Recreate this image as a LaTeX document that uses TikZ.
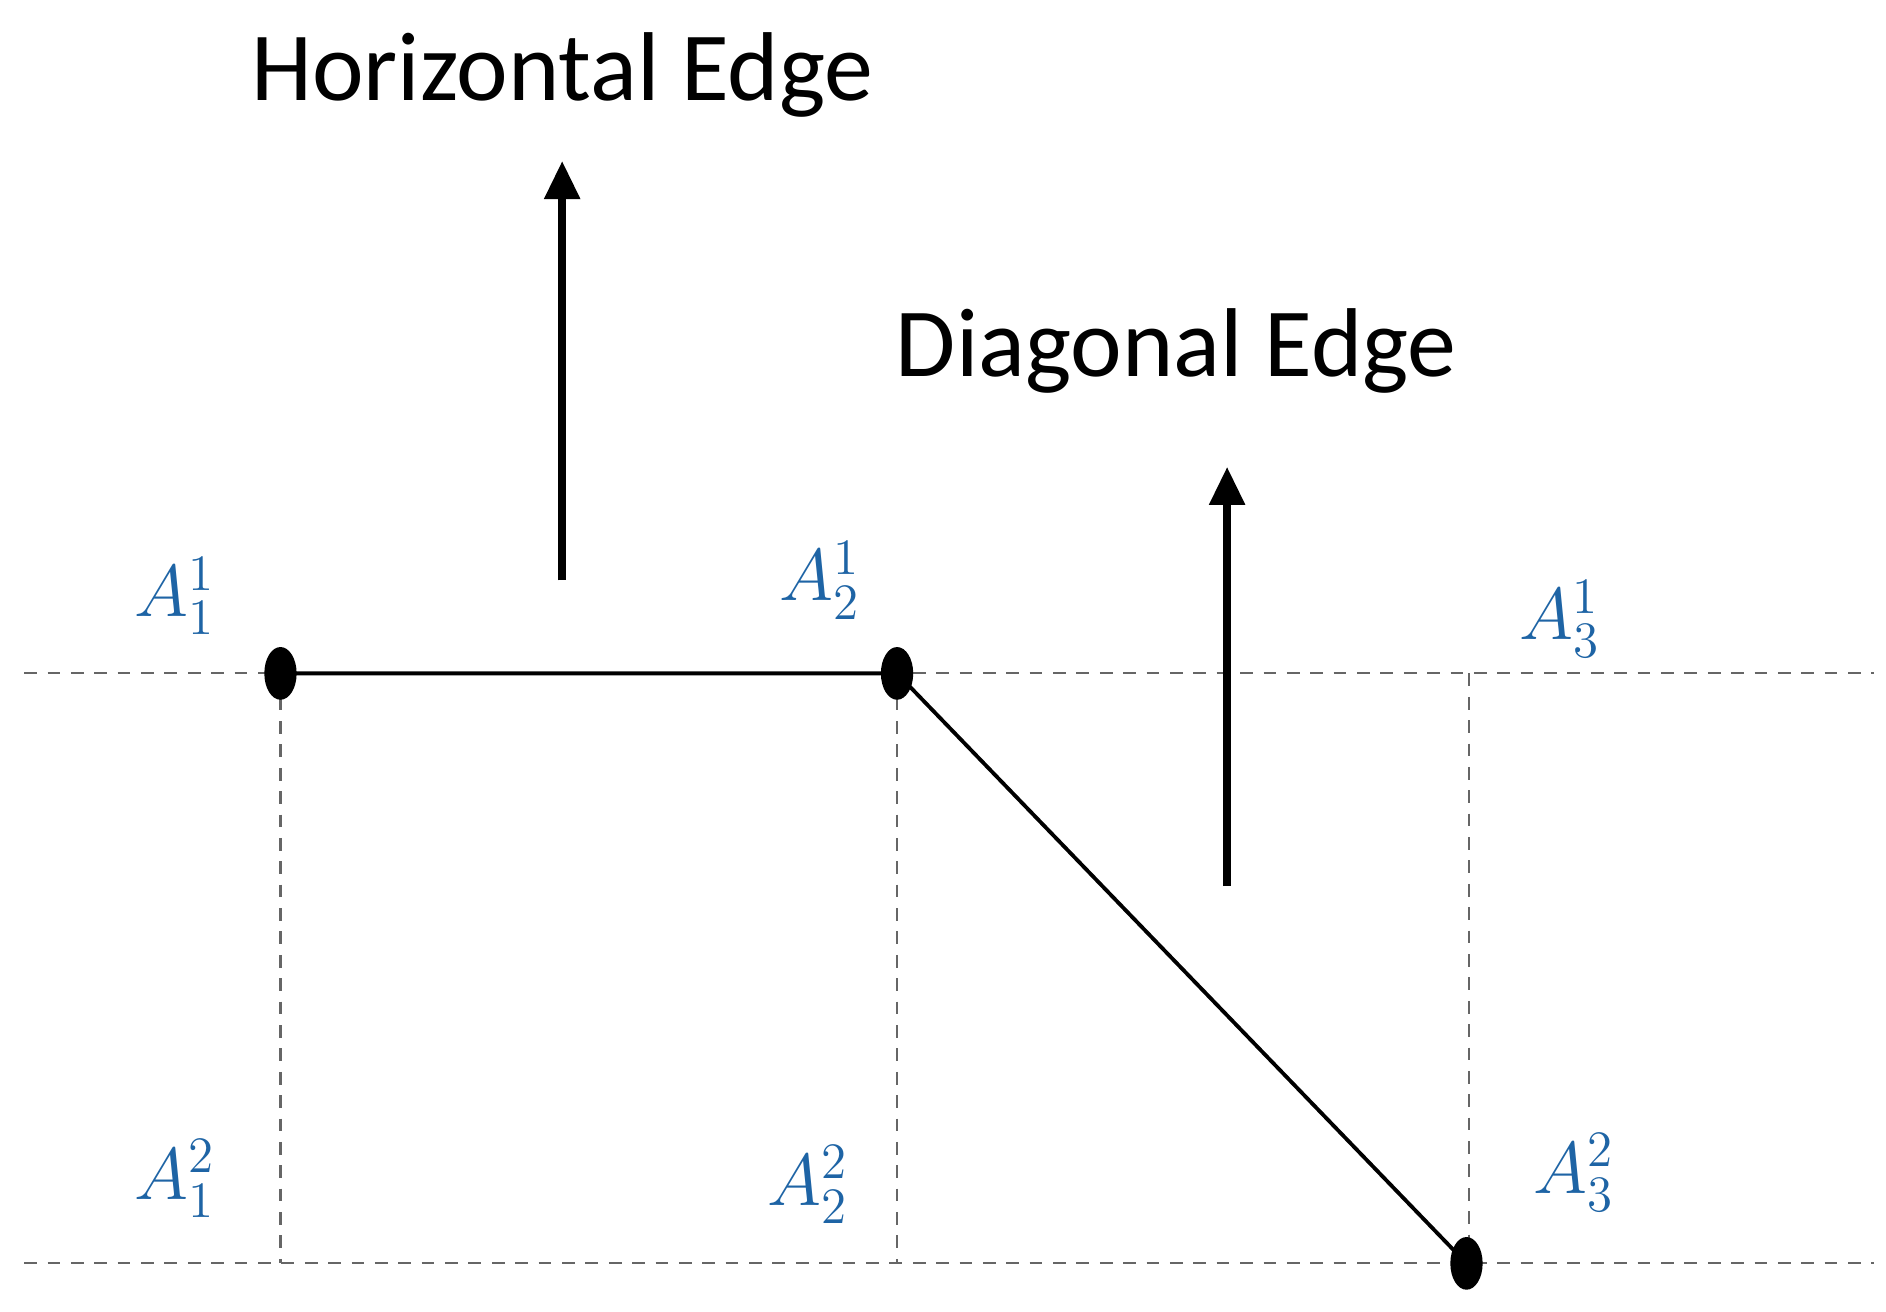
\documentclass[tikz,border=0pt]{standalone}
\usepackage{fontspec}
\setmainfont{Carlito}
\usetikzlibrary{arrows.meta}
\definecolor{lab}{RGB}{30,100,165}
\begin{document}
\begin{tikzpicture}[x=0.01cm,y=-0.01cm,
  grid/.style={gray!80!black,line width=0.5pt,dash pattern=on 3pt off 2.5pt},
  pt/.style={inner sep=0pt,minimum size=0pt},
  edge/.style={line width=0.9pt},
  up/.style={line width=2pt,-{Triangle[length=9pt,width=8pt]}},
  lbl/.style={text=lab,font=\fontsize{17}{20}\selectfont},
  ttl/.style={font=\fontsize{23}{27}\selectfont}]
\useasboundingbox (0,0) rectangle (1560,1085);
\coordinate (l1a) at (20,557); \coordinate (l1b) at (1550,557);
\coordinate (l2a) at (20,1045); \coordinate (l2b) at (1550,1045);
\coordinate (b1) at (232,1045); \coordinate (b2) at (742,1045); \coordinate (b3) at (1215,1045);
\coordinate (t3) at (1215,557);
\draw[grid] (l1a) -- (l1b);
\draw[grid] (l2a) -- (l2b);
\node[pt] (p1) at (232,557) {};
\node[pt] (p2) at (742,557) {};
\node[pt] (p3) at (1213,1045) {};
\draw[grid] (p1) -- (b1);
\draw[grid] (p2) -- (b2);
\draw[grid] (t3) -- (b3);
\draw[edge] (p1) -- (p2) -- (p3);
\fill (p1) ellipse (3.8pt and 6.2pt);
\fill (p2) ellipse (3.8pt and 6.2pt);
\fill (p3) ellipse (3.8pt and 6.2pt);
\coordinate (h0) at (465,480); \coordinate (h1) at (465,133);
\coordinate (d0) at (1015,733); \coordinate (d1) at (1015,386);
\draw[up] (h0) -- (h1);
\draw[up] (d0) -- (d1);
\node[ttl] (th) at (465,62) {Horizontal Edge};
\node[ttl] (td) at (973,290) {Diagonal Edge};
\node[lbl] (a11) at (145,493) {$A_1^1$};
\node[lbl] (a21) at (678,480) {$A_2^1$};
\node[lbl] (a31) at (1290,512) {$A_3^1$};
\node[lbl] (a12) at (145,975) {$A_1^2$};
\node[lbl] (a22) at (668,980) {$A_2^2$};
\node[lbl] (a32) at (1302,970) {$A_3^2$};
\end{tikzpicture}
\end{document}
